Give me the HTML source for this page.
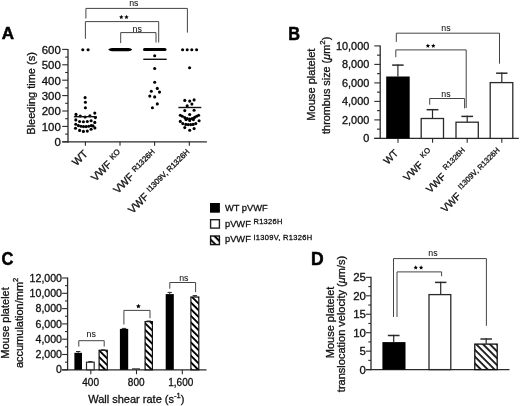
<!DOCTYPE html>
<html><head><meta charset="utf-8"><style>
html,body{margin:0;padding:0;background:#fff;}
svg{display:block;will-change:transform;}
text{font-family:"Liberation Sans", sans-serif;}
</style></head><body>
<svg width="520" height="406" viewBox="0 0 520 406">
<defs>
<pattern id="hatchC" patternUnits="userSpaceOnUse" width="4.7" height="4.7" patternTransform="rotate(-45)"><rect width="4.7" height="4.7" fill="#fff"/><rect width="1.9" height="4.7" fill="#000"/></pattern>
<pattern id="hatchD" patternUnits="userSpaceOnUse" width="4.85" height="4.85" patternTransform="translate(476.2 344.3) rotate(-45)"><rect width="4.85" height="4.85" fill="#fff"/><rect x="0" width="0.9" height="4.85" fill="#000"/><rect x="4.05" width="0.8" height="4.85" fill="#000"/></pattern>
<pattern id="hatchL" patternUnits="userSpaceOnUse" width="5.2" height="5.2" patternTransform="translate(215 240.3) rotate(-45)"><rect width="5.2" height="5.2" fill="#000"/><rect x="0" width="1.6" height="5.2" fill="#fff"/><rect x="3.6" width="1.6" height="5.2" fill="#fff"/></pattern>
</defs>
<rect width="520" height="406" fill="#fff"/>
<text id="A_lab" transform="translate(1.8 39.3)" font-size="17" text-anchor="start" font-weight="bold" fill="#000" stroke="#000" stroke-width="0.5">A</text>
<line x1="68.0" y1="48.9" x2="68.0" y2="142.4" stroke="#2a2a2a" stroke-width="1.3" stroke-linecap="butt"/>
<line x1="62.2" y1="141.8" x2="206.9" y2="141.8" stroke="#2a2a2a" stroke-width="1.3" stroke-linecap="butt"/>
<line x1="62.2" y1="141.8" x2="68.0" y2="141.8" stroke="#2a2a2a" stroke-width="1.1" stroke-linecap="butt"/>
<text id="A_tick0" transform="translate(60.8 146.20000000000002) scale(1.05 1)" font-size="10.9" text-anchor="end" font-weight="normal" fill="#111" stroke="#111" stroke-width="0.3">0</text>
<line x1="62.2" y1="126.4" x2="68.0" y2="126.4" stroke="#2a2a2a" stroke-width="1.1" stroke-linecap="butt"/>
<text id="A_tick100" transform="translate(60.8 130.8) scale(1.05 1)" font-size="10.9" text-anchor="end" font-weight="normal" fill="#111" stroke="#111" stroke-width="0.3">100</text>
<line x1="62.2" y1="111.0" x2="68.0" y2="111.0" stroke="#2a2a2a" stroke-width="1.1" stroke-linecap="butt"/>
<text id="A_tick200" transform="translate(60.8 115.4) scale(1.05 1)" font-size="10.9" text-anchor="end" font-weight="normal" fill="#111" stroke="#111" stroke-width="0.3">200</text>
<line x1="62.2" y1="95.6" x2="68.0" y2="95.6" stroke="#2a2a2a" stroke-width="1.1" stroke-linecap="butt"/>
<text id="A_tick300" transform="translate(60.8 100.0) scale(1.05 1)" font-size="10.9" text-anchor="end" font-weight="normal" fill="#111" stroke="#111" stroke-width="0.3">300</text>
<line x1="62.2" y1="80.2" x2="68.0" y2="80.2" stroke="#2a2a2a" stroke-width="1.1" stroke-linecap="butt"/>
<text id="A_tick400" transform="translate(60.8 84.60000000000001) scale(1.05 1)" font-size="10.9" text-anchor="end" font-weight="normal" fill="#111" stroke="#111" stroke-width="0.3">400</text>
<line x1="62.2" y1="64.8" x2="68.0" y2="64.8" stroke="#2a2a2a" stroke-width="1.1" stroke-linecap="butt"/>
<text id="A_tick500" transform="translate(60.8 69.2) scale(1.05 1)" font-size="10.9" text-anchor="end" font-weight="normal" fill="#111" stroke="#111" stroke-width="0.3">500</text>
<line x1="62.2" y1="49.4" x2="68.0" y2="49.4" stroke="#2a2a2a" stroke-width="1.1" stroke-linecap="butt"/>
<text id="A_tick600" transform="translate(60.8 53.8) scale(1.05 1)" font-size="10.9" text-anchor="end" font-weight="normal" fill="#111" stroke="#111" stroke-width="0.3">600</text>
<line x1="65.2" y1="134.1" x2="68.0" y2="134.1" stroke="#2a2a2a" stroke-width="1.1" stroke-linecap="butt"/>
<line x1="65.2" y1="118.7" x2="68.0" y2="118.7" stroke="#2a2a2a" stroke-width="1.1" stroke-linecap="butt"/>
<line x1="65.2" y1="103.3" x2="68.0" y2="103.3" stroke="#2a2a2a" stroke-width="1.1" stroke-linecap="butt"/>
<line x1="65.2" y1="87.9" x2="68.0" y2="87.9" stroke="#2a2a2a" stroke-width="1.1" stroke-linecap="butt"/>
<line x1="65.2" y1="72.5" x2="68.0" y2="72.5" stroke="#2a2a2a" stroke-width="1.1" stroke-linecap="butt"/>
<line x1="65.2" y1="57.1" x2="68.0" y2="57.1" stroke="#2a2a2a" stroke-width="1.1" stroke-linecap="butt"/>
<line x1="85.4" y1="141.8" x2="85.4" y2="145.7" stroke="#2a2a2a" stroke-width="1.1" stroke-linecap="butt"/>
<line x1="120.0" y1="141.8" x2="120.0" y2="145.7" stroke="#2a2a2a" stroke-width="1.1" stroke-linecap="butt"/>
<line x1="154.6" y1="141.8" x2="154.6" y2="145.7" stroke="#2a2a2a" stroke-width="1.1" stroke-linecap="butt"/>
<line x1="189.3" y1="141.8" x2="189.3" y2="145.7" stroke="#2a2a2a" stroke-width="1.1" stroke-linecap="butt"/>
<text id="A_ylab" transform="translate(34.6 93.4) rotate(-90)" font-size="11.0" text-anchor="middle" font-weight="normal" fill="#111" stroke="#111" stroke-width="0.3">Bleeding time (s)</text>
<circle cx="82.8" cy="49.7" r="1.55" fill="#000"/>
<circle cx="88.1" cy="49.7" r="1.55" fill="#000"/>
<circle cx="85.1" cy="97.6" r="1.55" fill="#000"/>
<circle cx="85.4" cy="102.3" r="1.55" fill="#000"/>
<circle cx="85.4" cy="107.8" r="1.55" fill="#000"/>
<circle cx="76.0" cy="114.4" r="1.55" fill="#000"/>
<circle cx="80.3" cy="116.0" r="1.55" fill="#000"/>
<circle cx="85.1" cy="117.0" r="1.55" fill="#000"/>
<circle cx="89.9" cy="115.7" r="1.55" fill="#000"/>
<circle cx="94.8" cy="113.1" r="1.55" fill="#000"/>
<circle cx="95.4" cy="117.6" r="1.55" fill="#000"/>
<circle cx="75.8" cy="119.9" r="1.55" fill="#000"/>
<circle cx="79.6" cy="121.5" r="1.55" fill="#000"/>
<circle cx="83.4" cy="121.8" r="1.55" fill="#000"/>
<circle cx="87.3" cy="121.5" r="1.55" fill="#000"/>
<circle cx="91.1" cy="120.8" r="1.55" fill="#000"/>
<circle cx="94.8" cy="122.4" r="1.55" fill="#000"/>
<circle cx="75.8" cy="124.3" r="1.55" fill="#000"/>
<circle cx="78.4" cy="125.6" r="1.55" fill="#000"/>
<circle cx="81.0" cy="126.3" r="1.55" fill="#000"/>
<circle cx="83.5" cy="126.6" r="1.55" fill="#000"/>
<circle cx="86.1" cy="126.6" r="1.55" fill="#000"/>
<circle cx="88.7" cy="126.3" r="1.55" fill="#000"/>
<circle cx="91.2" cy="125.6" r="1.55" fill="#000"/>
<circle cx="93.0" cy="125.9" r="1.55" fill="#000"/>
<circle cx="75.5" cy="128.2" r="1.55" fill="#000"/>
<circle cx="79.6" cy="130.4" r="1.55" fill="#000"/>
<circle cx="83.4" cy="131.4" r="1.55" fill="#000"/>
<circle cx="87.3" cy="131.1" r="1.55" fill="#000"/>
<circle cx="91.1" cy="129.2" r="1.55" fill="#000"/>
<circle cx="94.9" cy="127.9" r="1.55" fill="#000"/>
<line x1="73.9" y1="116.7" x2="96.7" y2="116.7" stroke="#111" stroke-width="1.4" stroke-linecap="butt"/>
<path d="M108.2,49.6 Q109.5,47.9 112,47.9 L128.6,47.9 Q131,47.9 132.3,49.6 Q131,51.3 128.6,51.3 L112,51.3 Q109.5,51.3 108.2,49.6 Z" fill="#000"/>
<line x1="144.5" y1="49.5" x2="165.0" y2="49.5" stroke="#000" stroke-width="3.0" stroke-linecap="round"/>
<circle cx="154.7" cy="55.7" r="1.55" fill="#000"/>
<circle cx="154.7" cy="68.5" r="1.55" fill="#000"/>
<circle cx="154.7" cy="82.3" r="1.55" fill="#000"/>
<circle cx="157.3" cy="88.4" r="1.55" fill="#000"/>
<circle cx="151.3" cy="91.3" r="1.55" fill="#000"/>
<circle cx="159.5" cy="92.1" r="1.55" fill="#000"/>
<circle cx="149.8" cy="96.1" r="1.55" fill="#000"/>
<circle cx="154.7" cy="96.9" r="1.55" fill="#000"/>
<circle cx="157.3" cy="103.9" r="1.55" fill="#000"/>
<circle cx="152.4" cy="107.7" r="1.55" fill="#000"/>
<line x1="143.3" y1="59.3" x2="166.7" y2="59.3" stroke="#111" stroke-width="1.4" stroke-linecap="butt"/>
<circle cx="182.6" cy="49.7" r="1.55" fill="#000"/>
<circle cx="187.2" cy="49.7" r="1.55" fill="#000"/>
<circle cx="191.8" cy="49.7" r="1.55" fill="#000"/>
<circle cx="196.6" cy="49.7" r="1.55" fill="#000"/>
<circle cx="189.6" cy="67.8" r="1.55" fill="#000"/>
<circle cx="184.8" cy="100.4" r="1.55" fill="#000"/>
<circle cx="189.7" cy="101.1" r="1.55" fill="#000"/>
<circle cx="194.1" cy="99.9" r="1.55" fill="#000"/>
<circle cx="191.9" cy="104.1" r="1.55" fill="#000"/>
<circle cx="187.2" cy="105.8" r="1.55" fill="#000"/>
<circle cx="184.8" cy="110.6" r="1.55" fill="#000"/>
<circle cx="194.1" cy="110.3" r="1.55" fill="#000"/>
<circle cx="189.7" cy="114.5" r="1.55" fill="#000"/>
<circle cx="180.3" cy="115.2" r="1.55" fill="#000"/>
<circle cx="182.3" cy="116.2" r="1.55" fill="#000"/>
<circle cx="184.8" cy="117.6" r="1.55" fill="#000"/>
<circle cx="187.2" cy="118.6" r="1.55" fill="#000"/>
<circle cx="189.7" cy="119.1" r="1.55" fill="#000"/>
<circle cx="192.2" cy="118.6" r="1.55" fill="#000"/>
<circle cx="194.6" cy="117.4" r="1.55" fill="#000"/>
<circle cx="196.6" cy="116.2" r="1.55" fill="#000"/>
<circle cx="198.6" cy="115.2" r="1.55" fill="#000"/>
<circle cx="180.3" cy="121.4" r="1.55" fill="#000"/>
<circle cx="182.8" cy="123.6" r="1.55" fill="#000"/>
<circle cx="185.8" cy="124.4" r="1.55" fill="#000"/>
<circle cx="188.2" cy="124.6" r="1.55" fill="#000"/>
<circle cx="190.7" cy="124.6" r="1.55" fill="#000"/>
<circle cx="193.1" cy="124.4" r="1.55" fill="#000"/>
<circle cx="195.8" cy="123.6" r="1.55" fill="#000"/>
<circle cx="199.1" cy="120.8" r="1.55" fill="#000"/>
<circle cx="184.8" cy="127.6" r="1.55" fill="#000"/>
<circle cx="189.7" cy="130.2" r="1.55" fill="#000"/>
<circle cx="194.1" cy="128.6" r="1.55" fill="#000"/>
<circle cx="186.0" cy="119.6" r="1.55" fill="#000"/>
<circle cx="189.7" cy="120.4" r="1.55" fill="#000"/>
<circle cx="193.4" cy="119.6" r="1.55" fill="#000"/>
<line x1="178.4" y1="107.5" x2="201.3" y2="107.5" stroke="#111" stroke-width="1.4" stroke-linecap="butt"/>
<polyline points="85.9,18.5 85.9,8.4 187.4,8.4 187.4,32.6" fill="none" stroke="#444" stroke-width="1.0"/>
<text id="A_ns1" transform="translate(133.8 5.8)" font-size="8.8" text-anchor="middle" font-weight="normal" fill="#111" stroke="#111" stroke-width="0.05">ns</text>
<polyline points="85.4,38.8 85.4,21.6 158.7,21.6 158.7,42.5" fill="none" stroke="#444" stroke-width="1.0"/>
<polygon points="121.30,14.80 121.92,16.25 123.49,16.39 122.30,17.42 122.65,18.96 121.30,18.15 119.95,18.96 120.30,17.42 119.11,16.39 120.68,16.25" fill="#000"/>
<polygon points="126.50,14.80 127.12,16.25 128.69,16.39 127.50,17.42 127.85,18.96 126.50,18.15 125.15,18.96 125.50,17.42 124.31,16.39 125.88,16.25" fill="#000"/>
<polyline points="120.7,43.1 120.7,32.6 156.0,32.6 156.0,42.5" fill="none" stroke="#444" stroke-width="1.0"/>
<text id="A_ns2" transform="translate(137.2 31.8)" font-size="8.8" text-anchor="middle" font-weight="normal" fill="#111" stroke="#111" stroke-width="0.05">ns</text>
<text id="A_xl0" transform="translate(88.3 154.5) rotate(-45)" font-size="10.8" text-anchor="end" font-weight="normal" fill="#111" stroke="#111" stroke-width="0.3">WT</text>
<text id="A_xl1" transform="translate(122.9 154.5) rotate(-45)" font-size="10.8" text-anchor="end" font-weight="normal" fill="#111" stroke="#111" stroke-width="0.3">VWF<tspan font-size="7.8" dx="3.6" dy="-3.2">KO</tspan></text>
<text id="A_xl2" transform="translate(157.5 154.5) rotate(-45)" font-size="10.8" text-anchor="end" font-weight="normal" fill="#111" stroke="#111" stroke-width="0.3">VWF<tspan font-size="7.8" dx="3.6" dy="-3.2">R1326H</tspan></text>
<text id="A_xl3" transform="translate(192.2 154.5) rotate(-45)" font-size="10.8" text-anchor="end" font-weight="normal" fill="#111" stroke="#111" stroke-width="0.3">VWF<tspan font-size="7.8" dx="3.6" dy="-3.2">I1309V, R1326H</tspan></text>
<text id="B_lab" transform="translate(288.2 39.6) scale(0.91 1)" font-size="17.9" text-anchor="start" font-weight="bold" fill="#000" stroke="#000" stroke-width="0.5">B</text>
<line x1="380.2" y1="45.4" x2="380.2" y2="139.0" stroke="#2a2a2a" stroke-width="1.3" stroke-linecap="butt"/>
<line x1="374.3" y1="138.4" x2="518.8" y2="138.4" stroke="#2a2a2a" stroke-width="1.3" stroke-linecap="butt"/>
<line x1="374.3" y1="138.4" x2="380.2" y2="138.4" stroke="#2a2a2a" stroke-width="1.1" stroke-linecap="butt"/>
<text id="B_tick0" transform="translate(369.3 142.3) scale(1.04 1)" font-size="10.5" text-anchor="end" font-weight="normal" fill="#111" stroke="#111" stroke-width="0.3">0</text>
<line x1="374.3" y1="119.9" x2="380.2" y2="119.9" stroke="#2a2a2a" stroke-width="1.1" stroke-linecap="butt"/>
<text id="B_tick2000" transform="translate(369.3 123.80000000000001) scale(1.04 1)" font-size="10.5" text-anchor="end" font-weight="normal" fill="#111" stroke="#111" stroke-width="0.3">2,000</text>
<line x1="374.3" y1="101.4" x2="380.2" y2="101.4" stroke="#2a2a2a" stroke-width="1.1" stroke-linecap="butt"/>
<text id="B_tick4000" transform="translate(369.3 105.30000000000001) scale(1.04 1)" font-size="10.5" text-anchor="end" font-weight="normal" fill="#111" stroke="#111" stroke-width="0.3">4,000</text>
<line x1="374.3" y1="82.9" x2="380.2" y2="82.9" stroke="#2a2a2a" stroke-width="1.1" stroke-linecap="butt"/>
<text id="B_tick6000" transform="translate(369.3 86.80000000000001) scale(1.04 1)" font-size="10.5" text-anchor="end" font-weight="normal" fill="#111" stroke="#111" stroke-width="0.3">6,000</text>
<line x1="374.3" y1="64.4" x2="380.2" y2="64.4" stroke="#2a2a2a" stroke-width="1.1" stroke-linecap="butt"/>
<text id="B_tick8000" transform="translate(369.3 68.30000000000001) scale(1.04 1)" font-size="10.5" text-anchor="end" font-weight="normal" fill="#111" stroke="#111" stroke-width="0.3">8,000</text>
<line x1="374.3" y1="45.9" x2="380.2" y2="45.9" stroke="#2a2a2a" stroke-width="1.1" stroke-linecap="butt"/>
<text id="B_tick10000" transform="translate(369.3 49.8) scale(1.04 1)" font-size="10.5" text-anchor="end" font-weight="normal" fill="#111" stroke="#111" stroke-width="0.3">10,000</text>
<line x1="377.0" y1="129.15" x2="380.2" y2="129.15" stroke="#2a2a2a" stroke-width="1.1" stroke-linecap="butt"/>
<line x1="377.0" y1="110.65" x2="380.2" y2="110.65" stroke="#2a2a2a" stroke-width="1.1" stroke-linecap="butt"/>
<line x1="377.0" y1="92.15" x2="380.2" y2="92.15" stroke="#2a2a2a" stroke-width="1.1" stroke-linecap="butt"/>
<line x1="377.0" y1="73.65" x2="380.2" y2="73.65" stroke="#2a2a2a" stroke-width="1.1" stroke-linecap="butt"/>
<line x1="377.0" y1="55.15" x2="380.2" y2="55.15" stroke="#2a2a2a" stroke-width="1.1" stroke-linecap="butt"/>
<line x1="398.0" y1="138.4" x2="398.0" y2="142.7" stroke="#2a2a2a" stroke-width="1.1" stroke-linecap="butt"/>
<line x1="432.6" y1="138.4" x2="432.6" y2="142.7" stroke="#2a2a2a" stroke-width="1.1" stroke-linecap="butt"/>
<line x1="467.2" y1="138.4" x2="467.2" y2="142.7" stroke="#2a2a2a" stroke-width="1.1" stroke-linecap="butt"/>
<line x1="501.8" y1="138.4" x2="501.8" y2="142.7" stroke="#2a2a2a" stroke-width="1.1" stroke-linecap="butt"/>
<text id="B_ylab1" transform="translate(315.3 84.65) rotate(-90)" font-size="11.1" text-anchor="middle" font-weight="normal" fill="#111" stroke="#111" stroke-width="0.3">Mouse platelet</text>
<text id="B_ylab2" transform="translate(330.1 85.3) rotate(-90)" font-size="10.85" text-anchor="middle" font-weight="normal" fill="#111" stroke="#111" stroke-width="0.3">thrombus size (<tspan font-style="italic">μ</tspan>m<tspan font-size="8.0" dy="-5.0">2</tspan><tspan dy="5.0">)</tspan></text>
<rect x="386.2" y="76.5" width="23.5" height="61.900000000000006" fill="#000"/>
<line x1="397.9" y1="76.5" x2="397.9" y2="64.39999999999999" stroke="#2a2a2a" stroke-width="1.2" stroke-linecap="butt"/>
<line x1="392.15" y1="65.1" x2="403.65" y2="65.1" stroke="#2a2a2a" stroke-width="1.5" stroke-linecap="butt"/>
<rect x="421.2" y="118.5" width="22.3" height="19.900000000000006" fill="#fff" stroke="#2a2a2a" stroke-width="1.3"/>
<line x1="432.5" y1="118.5" x2="432.5" y2="109.0" stroke="#2a2a2a" stroke-width="1.2" stroke-linecap="butt"/>
<line x1="426.6" y1="109.7" x2="438.4" y2="109.7" stroke="#2a2a2a" stroke-width="1.5" stroke-linecap="butt"/>
<rect x="456.0" y="122.2" width="22.3" height="16.200000000000003" fill="#fff" stroke="#2a2a2a" stroke-width="1.3"/>
<line x1="467.2" y1="122.2" x2="467.2" y2="115.7" stroke="#2a2a2a" stroke-width="1.2" stroke-linecap="butt"/>
<line x1="461.4" y1="116.4" x2="473.0" y2="116.4" stroke="#2a2a2a" stroke-width="1.5" stroke-linecap="butt"/>
<rect x="490.2" y="82.6" width="22.6" height="55.80000000000001" fill="#fff" stroke="#2a2a2a" stroke-width="1.3"/>
<line x1="501.8" y1="82.6" x2="501.8" y2="72.5" stroke="#2a2a2a" stroke-width="1.2" stroke-linecap="butt"/>
<line x1="496.1" y1="73.2" x2="507.5" y2="73.2" stroke="#2a2a2a" stroke-width="1.5" stroke-linecap="butt"/>
<polyline points="396.3,41.9 396.3,33.2 499.5,33.2 499.5,63.7" fill="none" stroke="#444" stroke-width="1.0"/>
<text id="B_ns1" transform="translate(446.0 30.8)" font-size="8.8" text-anchor="middle" font-weight="normal" fill="#111" stroke="#111" stroke-width="0.05">ns</text>
<polyline points="395.8,57.2 395.8,49.9 466.2,49.9 466.2,108.0" fill="none" stroke="#444" stroke-width="1.0"/>
<polygon points="427.90,43.60 428.52,45.05 430.09,45.19 428.90,46.22 429.25,47.76 427.90,46.95 426.55,47.76 426.90,46.22 425.71,45.19 427.28,45.05" fill="#000"/>
<polygon points="433.30,43.60 433.92,45.05 435.49,45.19 434.30,46.22 434.65,47.76 433.30,46.95 431.95,47.76 432.30,46.22 431.11,45.19 432.68,45.05" fill="#000"/>
<polyline points="429.7,104.7 429.7,98.5 464.6,98.5 464.6,108.4" fill="none" stroke="#444" stroke-width="1.0"/>
<text id="B_ns2" transform="translate(446.0 96.7)" font-size="8.8" text-anchor="middle" font-weight="normal" fill="#111" stroke="#111" stroke-width="0.05">ns</text>
<text id="B_xl0" transform="translate(399.0 153.8) rotate(-45)" font-size="10.3" text-anchor="end" font-weight="normal" fill="#111" stroke="#111" stroke-width="0.3">WT</text>
<text id="B_xl1" transform="translate(434.7 154.5) rotate(-45)" font-size="10.3" text-anchor="end" font-weight="normal" fill="#111" stroke="#111" stroke-width="0.3">VWF<tspan font-size="7.6" dx="4.5" dy="-5.4">KO</tspan></text>
<text id="B_xl2" transform="translate(469.3 154.5) rotate(-45)" font-size="10.3" text-anchor="end" font-weight="normal" fill="#111" stroke="#111" stroke-width="0.3">VWF<tspan font-size="7.6" dx="4.5" dy="-5.4">R1326H</tspan></text>
<text id="B_xl3" transform="translate(503.9 154.5) rotate(-45)" font-size="10.3" text-anchor="end" font-weight="normal" fill="#111" stroke="#111" stroke-width="0.3">VWF<tspan font-size="7.6" dx="4.5" dy="-5.4">I1309V, R1326H</tspan></text>
<rect x="210.0" y="203.0" width="9.9" height="9.7" fill="#000"/>
<rect x="210.6" y="219.7" width="8.8" height="8.4" fill="#fff" stroke="#222" stroke-width="1.4"/>
<rect x="210.6" y="236.0" width="8.8" height="8.6" fill="url(#hatchL)" stroke="#111" stroke-width="1.4"/>
<text id="L1" transform="translate(225.0 211.1)" font-size="9.3" text-anchor="start" font-weight="normal" fill="#111" stroke="#111" stroke-width="0.3">WT pVWF</text>
<text id="L2" transform="translate(225.0 226.6)" font-size="9.3" text-anchor="start" font-weight="normal" fill="#111" stroke="#111" stroke-width="0.3">pVWF<tspan font-size="7.5" letter-spacing="0.3" dx="2.6" dy="-2.6">R1326H</tspan></text>
<text id="L3" transform="translate(225.0 242.1)" font-size="9.3" text-anchor="start" font-weight="normal" fill="#111" stroke="#111" stroke-width="0.3">pVWF<tspan font-size="7.5" letter-spacing="0.3" dx="2.6" dy="-2.6">I1309V, R1326H</tspan></text>
<text id="C_lab" transform="translate(1.6 264.8) scale(0.895 1)" font-size="18.4" text-anchor="start" font-weight="bold" fill="#000" stroke="#000" stroke-width="0.5">C</text>
<line x1="67.6" y1="277.5" x2="67.6" y2="370.40000000000003" stroke="#2a2a2a" stroke-width="1.3" stroke-linecap="butt"/>
<line x1="62.1" y1="369.8" x2="206.5" y2="369.8" stroke="#2a2a2a" stroke-width="1.3" stroke-linecap="butt"/>
<line x1="62.1" y1="369.8" x2="67.6" y2="369.8" stroke="#2a2a2a" stroke-width="1.1" stroke-linecap="butt"/>
<text id="C_tick0" transform="translate(62.0 373.40000000000003)" font-size="10.6" text-anchor="end" font-weight="normal" fill="#111" stroke="#111" stroke-width="0.3">0</text>
<line x1="62.1" y1="354.5" x2="67.6" y2="354.5" stroke="#2a2a2a" stroke-width="1.1" stroke-linecap="butt"/>
<text id="C_tick2000" transform="translate(62.0 358.1)" font-size="10.6" text-anchor="end" font-weight="normal" fill="#111" stroke="#111" stroke-width="0.3">2,000</text>
<line x1="62.1" y1="339.2" x2="67.6" y2="339.2" stroke="#2a2a2a" stroke-width="1.1" stroke-linecap="butt"/>
<text id="C_tick4000" transform="translate(62.0 342.8)" font-size="10.6" text-anchor="end" font-weight="normal" fill="#111" stroke="#111" stroke-width="0.3">4,000</text>
<line x1="62.1" y1="323.9" x2="67.6" y2="323.9" stroke="#2a2a2a" stroke-width="1.1" stroke-linecap="butt"/>
<text id="C_tick6000" transform="translate(62.0 327.5)" font-size="10.6" text-anchor="end" font-weight="normal" fill="#111" stroke="#111" stroke-width="0.3">6,000</text>
<line x1="62.1" y1="308.6" x2="67.6" y2="308.6" stroke="#2a2a2a" stroke-width="1.1" stroke-linecap="butt"/>
<text id="C_tick8000" transform="translate(62.0 312.20000000000005)" font-size="10.6" text-anchor="end" font-weight="normal" fill="#111" stroke="#111" stroke-width="0.3">8,000</text>
<line x1="62.1" y1="293.3" x2="67.6" y2="293.3" stroke="#2a2a2a" stroke-width="1.1" stroke-linecap="butt"/>
<text id="C_tick10000" transform="translate(62.0 296.90000000000003)" font-size="10.6" text-anchor="end" font-weight="normal" fill="#111" stroke="#111" stroke-width="0.3">10,000</text>
<line x1="62.1" y1="278.0" x2="67.6" y2="278.0" stroke="#2a2a2a" stroke-width="1.1" stroke-linecap="butt"/>
<text id="C_tick12000" transform="translate(62.0 281.6)" font-size="10.6" text-anchor="end" font-weight="normal" fill="#111" stroke="#111" stroke-width="0.3">12,000</text>
<line x1="65.0" y1="362.15" x2="67.6" y2="362.15" stroke="#2a2a2a" stroke-width="1.1" stroke-linecap="butt"/>
<line x1="65.0" y1="346.85" x2="67.6" y2="346.85" stroke="#2a2a2a" stroke-width="1.1" stroke-linecap="butt"/>
<line x1="65.0" y1="331.55" x2="67.6" y2="331.55" stroke="#2a2a2a" stroke-width="1.1" stroke-linecap="butt"/>
<line x1="65.0" y1="316.25" x2="67.6" y2="316.25" stroke="#2a2a2a" stroke-width="1.1" stroke-linecap="butt"/>
<line x1="65.0" y1="300.95" x2="67.6" y2="300.95" stroke="#2a2a2a" stroke-width="1.1" stroke-linecap="butt"/>
<line x1="65.0" y1="285.65" x2="67.6" y2="285.65" stroke="#2a2a2a" stroke-width="1.1" stroke-linecap="butt"/>
<line x1="90.8" y1="369.8" x2="90.8" y2="374.2" stroke="#2a2a2a" stroke-width="1.1" stroke-linecap="butt"/>
<line x1="136.5" y1="369.8" x2="136.5" y2="374.2" stroke="#2a2a2a" stroke-width="1.1" stroke-linecap="butt"/>
<line x1="182.3" y1="369.8" x2="182.3" y2="374.2" stroke="#2a2a2a" stroke-width="1.1" stroke-linecap="butt"/>
<text id="C_xt0" transform="translate(90.6 386.2)" font-size="10.0" text-anchor="middle" font-weight="normal" fill="#111" stroke="#111" stroke-width="0.3">400</text>
<text id="C_xt1" transform="translate(136.2 386.2)" font-size="10.0" text-anchor="middle" font-weight="normal" fill="#111" stroke="#111" stroke-width="0.3">800</text>
<text id="C_xt2" transform="translate(180.8 386.2)" font-size="10.0" text-anchor="middle" font-weight="normal" fill="#111" stroke="#111" stroke-width="0.3">1,600</text>
<text id="C_xlab" transform="translate(88.2 402.6)" font-size="11.0" text-anchor="start" font-weight="normal" fill="#111" stroke="#111" stroke-width="0.3">Wall shear rate (s<tspan font-size="7.5" dy="-4.5">-1</tspan><tspan dy="4.5">)</tspan></text>
<text id="C_ylab1" transform="translate(8.6 323) rotate(-90)" font-size="11" text-anchor="middle" font-weight="normal" fill="#111" stroke="#111" stroke-width="0.3">Mouse platelet</text>
<text id="C_ylab2" transform="translate(22.6 322.9) rotate(-90)" font-size="11" text-anchor="middle" font-weight="normal" fill="#111" stroke="#111" stroke-width="0.3">accumulation/mm<tspan font-size="7.6" dy="-4.2">2</tspan></text>
<rect x="74.4" y="352.8" width="7.599999999999994" height="17.0" fill="#000"/>
<line x1="78.2" y1="352.8" x2="78.2" y2="351.5" stroke="#2a2a2a" stroke-width="1.0" stroke-linecap="butt"/>
<line x1="76.0" y1="351.5" x2="80.4" y2="351.5" stroke="#2a2a2a" stroke-width="1.0" stroke-linecap="butt"/>
<rect x="86.5" y="362.2" width="7.699999999999991" height="7.600000000000023" fill="#fff" stroke="#2a2a2a" stroke-width="1.2"/>
<line x1="90.35" y1="362.2" x2="90.35" y2="361.6" stroke="#2a2a2a" stroke-width="1.0" stroke-linecap="butt"/>
<line x1="88.14999999999999" y1="361.6" x2="92.55" y2="361.6" stroke="#2a2a2a" stroke-width="1.0" stroke-linecap="butt"/>
<rect x="99.1" y="350.3" width="8.200000000000006" height="19.5" fill="url(#hatchC)" stroke="#111" stroke-width="1.2"/>
<line x1="103.2" y1="350.3" x2="103.2" y2="349.8" stroke="#2a2a2a" stroke-width="1.0" stroke-linecap="butt"/>
<line x1="101.0" y1="349.8" x2="105.4" y2="349.8" stroke="#2a2a2a" stroke-width="1.0" stroke-linecap="butt"/>
<rect x="119.9" y="328.9" width="8.299999999999983" height="40.900000000000034" fill="#000"/>
<line x1="124.05" y1="328.9" x2="124.05" y2="328.4" stroke="#2a2a2a" stroke-width="1.0" stroke-linecap="butt"/>
<line x1="121.85" y1="328.4" x2="126.25" y2="328.4" stroke="#2a2a2a" stroke-width="1.0" stroke-linecap="butt"/>
<line x1="132.0" y1="368.9" x2="140.0" y2="368.9" stroke="#222" stroke-width="1.1" stroke-linecap="butt"/>
<rect x="145.1" y="321.6" width="7.3" height="48.19999999999999" fill="url(#hatchC)" stroke="#111" stroke-width="1.2"/>
<line x1="148.75" y1="321.6" x2="148.75" y2="321.0" stroke="#2a2a2a" stroke-width="1.0" stroke-linecap="butt"/>
<line x1="146.55" y1="321.0" x2="150.95" y2="321.0" stroke="#2a2a2a" stroke-width="1.0" stroke-linecap="butt"/>
<rect x="165.7" y="294.1" width="8.100000000000023" height="75.69999999999999" fill="#000"/>
<line x1="169.75" y1="294.1" x2="169.75" y2="292.4" stroke="#2a2a2a" stroke-width="1.0" stroke-linecap="butt"/>
<line x1="167.55" y1="292.4" x2="171.95" y2="292.4" stroke="#2a2a2a" stroke-width="1.0" stroke-linecap="butt"/>
<rect x="190.9" y="297.0" width="7.899999999999994" height="72.80000000000001" fill="url(#hatchC)" stroke="#111" stroke-width="1.2"/>
<line x1="194.85000000000002" y1="297.0" x2="194.85000000000002" y2="295.6" stroke="#2a2a2a" stroke-width="1.0" stroke-linecap="butt"/>
<line x1="192.65000000000003" y1="295.6" x2="197.05" y2="295.6" stroke="#2a2a2a" stroke-width="1.0" stroke-linecap="butt"/>
<polyline points="78.8,346.6 78.8,340.7 104.2,340.7 104.2,346.6" fill="none" stroke="#444" stroke-width="1.0"/>
<text id="C_ns1" transform="translate(91.2 336.6)" font-size="8.8" text-anchor="middle" font-weight="normal" fill="#111" stroke="#111" stroke-width="0.05">ns</text>
<polyline points="123.9,324.5 123.9,310.4 150.0,310.4 150.0,318.2" fill="none" stroke="#444" stroke-width="1.0"/>
<polygon points="138.40,303.80 139.08,305.37 140.78,305.53 139.49,306.66 139.87,308.32 138.40,307.45 136.93,308.32 137.31,306.66 136.02,305.53 137.72,305.37" fill="#000"/>
<polyline points="169.8,288.7 169.8,282.5 195.6,282.5 195.6,292.1" fill="none" stroke="#444" stroke-width="1.0"/>
<text id="C_ns2" transform="translate(183.8 280.6)" font-size="8.8" text-anchor="middle" font-weight="normal" fill="#111" stroke="#111" stroke-width="0.05">ns</text>
<text id="D_lab" transform="translate(311.1 264.5)" font-size="17.5" text-anchor="start" font-weight="bold" fill="#000" stroke="#000" stroke-width="0.5">D</text>
<line x1="371.0" y1="276.85" x2="371.0" y2="370.20000000000005" stroke="#2a2a2a" stroke-width="1.3" stroke-linecap="butt"/>
<line x1="366.0" y1="369.6" x2="509.5" y2="369.6" stroke="#2a2a2a" stroke-width="1.3" stroke-linecap="butt"/>
<line x1="366.0" y1="369.6" x2="371.0" y2="369.6" stroke="#2a2a2a" stroke-width="1.1" stroke-linecap="butt"/>
<text id="D_tick0" transform="translate(365.9 373.6) scale(1.05 1)" font-size="10.9" text-anchor="end" font-weight="normal" fill="#111" stroke="#111" stroke-width="0.3">0</text>
<line x1="366.0" y1="351.15" x2="371.0" y2="351.15" stroke="#2a2a2a" stroke-width="1.1" stroke-linecap="butt"/>
<text id="D_tick5" transform="translate(365.9 355.15) scale(1.05 1)" font-size="10.9" text-anchor="end" font-weight="normal" fill="#111" stroke="#111" stroke-width="0.3">5</text>
<line x1="366.0" y1="332.7" x2="371.0" y2="332.7" stroke="#2a2a2a" stroke-width="1.1" stroke-linecap="butt"/>
<text id="D_tick10" transform="translate(365.9 336.7) scale(1.05 1)" font-size="10.9" text-anchor="end" font-weight="normal" fill="#111" stroke="#111" stroke-width="0.3">10</text>
<line x1="366.0" y1="314.25" x2="371.0" y2="314.25" stroke="#2a2a2a" stroke-width="1.1" stroke-linecap="butt"/>
<text id="D_tick15" transform="translate(365.9 318.25) scale(1.05 1)" font-size="10.9" text-anchor="end" font-weight="normal" fill="#111" stroke="#111" stroke-width="0.3">15</text>
<line x1="366.0" y1="295.8" x2="371.0" y2="295.8" stroke="#2a2a2a" stroke-width="1.1" stroke-linecap="butt"/>
<text id="D_tick20" transform="translate(365.9 299.8) scale(1.05 1)" font-size="10.9" text-anchor="end" font-weight="normal" fill="#111" stroke="#111" stroke-width="0.3">20</text>
<line x1="366.0" y1="277.35" x2="371.0" y2="277.35" stroke="#2a2a2a" stroke-width="1.1" stroke-linecap="butt"/>
<text id="D_tick25" transform="translate(365.9 281.35) scale(1.05 1)" font-size="10.9" text-anchor="end" font-weight="normal" fill="#111" stroke="#111" stroke-width="0.3">25</text>
<line x1="368.3" y1="360.38" x2="371.0" y2="360.38" stroke="#2a2a2a" stroke-width="1.1" stroke-linecap="butt"/>
<line x1="368.3" y1="341.93" x2="371.0" y2="341.93" stroke="#2a2a2a" stroke-width="1.1" stroke-linecap="butt"/>
<line x1="368.3" y1="323.48" x2="371.0" y2="323.48" stroke="#2a2a2a" stroke-width="1.1" stroke-linecap="butt"/>
<line x1="368.3" y1="305.03" x2="371.0" y2="305.03" stroke="#2a2a2a" stroke-width="1.1" stroke-linecap="butt"/>
<line x1="368.3" y1="286.58" x2="371.0" y2="286.58" stroke="#2a2a2a" stroke-width="1.1" stroke-linecap="butt"/>
<text id="D_ylab1" transform="translate(333.6 322.45) rotate(-90)" font-size="11.0" text-anchor="middle" font-weight="normal" fill="#111" stroke="#111" stroke-width="0.3">Mouse platelet</text>
<text id="D_ylab2" transform="translate(345.2 324.0) rotate(-90)" font-size="11.0" text-anchor="middle" font-weight="normal" fill="#111" stroke="#111" stroke-width="0.3">translocation velocity (<tspan font-style="italic">μ</tspan>m/s)</text>
<rect x="382.4" y="342.1" width="23.1" height="27.5" fill="#000"/>
<line x1="393.7" y1="342.1" x2="393.7" y2="334.8" stroke="#2a2a2a" stroke-width="1.2" stroke-linecap="butt"/>
<line x1="387.84999999999997" y1="335.5" x2="399.55" y2="335.5" stroke="#2a2a2a" stroke-width="1.5" stroke-linecap="butt"/>
<rect x="429.0" y="294.6" width="21.8" height="75.0" fill="#fff" stroke="#2a2a2a" stroke-width="1.3"/>
<line x1="440.7" y1="294.6" x2="440.7" y2="281.7" stroke="#2a2a2a" stroke-width="1.2" stroke-linecap="butt"/>
<line x1="435.0" y1="282.4" x2="446.4" y2="282.4" stroke="#2a2a2a" stroke-width="1.5" stroke-linecap="butt"/>
<rect x="474.8" y="344.1" width="22.4" height="25.5" fill="url(#hatchD)" stroke="#111" stroke-width="1.3"/>
<line x1="486.2" y1="344.1" x2="486.2" y2="338.3" stroke="#2a2a2a" stroke-width="1.2" stroke-linecap="butt"/>
<line x1="480.45" y1="339.0" x2="491.95" y2="339.0" stroke="#2a2a2a" stroke-width="1.5" stroke-linecap="butt"/>
<polyline points="393.5,317.0 393.5,258.6 486.4,258.6 486.4,325.8" fill="none" stroke="#444" stroke-width="1.0"/>
<text id="D_ns1" transform="translate(433.0 256.2)" font-size="8.8" text-anchor="middle" font-weight="normal" fill="#111" stroke="#111" stroke-width="0.05">ns</text>
<polyline points="397.0,317.0 397.0,271.9 441.6,271.9 441.6,276.2" fill="none" stroke="#444" stroke-width="1.0"/>
<polygon points="415.70,265.30 416.32,266.75 417.89,266.89 416.70,267.92 417.05,269.46 415.70,268.65 414.35,269.46 414.70,267.92 413.51,266.89 415.08,266.75" fill="#000"/>
<polygon points="421.10,265.30 421.72,266.75 423.29,266.89 422.10,267.92 422.45,269.46 421.10,268.65 419.75,269.46 420.10,267.92 418.91,266.89 420.48,266.75" fill="#000"/>
</svg>
</body></html>
